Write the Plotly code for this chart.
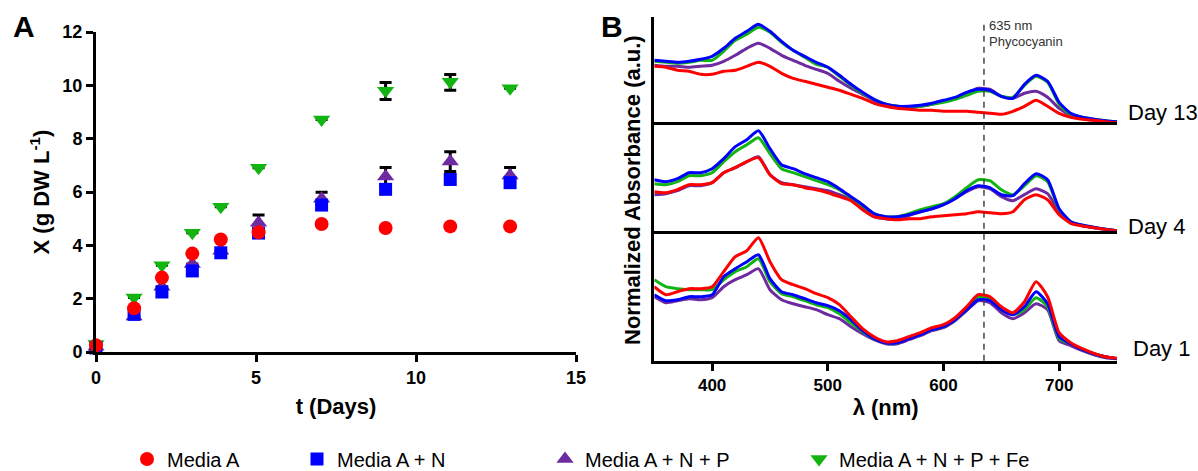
import plotly.graph_objects as go

# ---------------- Panel A data ----------------
days = [0, 1.19, 2.06, 3.01, 3.9, 5.08, 7.05, 9.05, 11.07, 12.94]
media_a = [0.25, 1.64, 2.79, 3.69, 4.22, 4.49, 4.80, 4.65, 4.71, 4.71]
media_a_n = [0.15, 1.41, 2.25, 3.04, 3.72, 4.46, 5.51, 6.10, 6.47, 6.35]
media_a_n_p = [0.20, 1.33, 2.45, 3.30, 3.80, 4.85, 5.75, 6.58, 7.14, 6.62]
media_a_n_p_fe = [0.30, 2.04, 3.25, 4.47, 5.45, 6.91, 8.72, 9.80, 10.13, 9.89]
err_p = [None, None, None, None, None, 0.29, 0.24, 0.34, 0.37, 0.30]
err_fe_plus = [None, None, None, None, None, None, None, 0.31, 0.28, None]
err_fe_minus = [None, None, None, None, None, None, None, 0.33, 0.31, None]

# ---------------- Panel B data ----------------
wl = list(range(350, 751, 10))
d13_blue = [.62, .61, .60, .61, .63, .66, .74, .84, .91, .98, .91, .81, .72, .66, .60, .55, .47, .38, .30, .23,
            .18, .16, .16, .17, .19, .22, .25, .30, .33, .32, .26, .24, .38, .47, .41, .20, .09, .05, .03, .016, .006]
d13_green = [.61, .60, .59, .60, .62, .62, .71, .82, .88, .95, .90, .80, .72, .65, .58, .55, .46, .37, .29, .23,
             .18, .16, .15, .16, .18, .20, .23, .27, .31, .31, .26, .25, .37, .46, .40, .18, .08, .05, .03, .015, .005]
d13_purple = [.57, .56, .56, .55, .56, .57, .61, .67, .74, .79, .74, .67, .62, .57, .53, .49, .41, .34, .28, .22,
              .18, .16, .15, .16, .18, .21, .24, .29, .34, .33, .26, .24, .29, .31, .25, .14, .07, .04, .02, .01, .005]
d13_red = [.56, .55, .52, .51, .48, .48, .51, .52, .56, .60, .56, .49, .44, .41, .38, .35, .32, .28, .24, .19,
           .16, .14, .13, .12, .12, .11, .11, .11, .10, .09, .08, .11, .16, .22, .16, .09, .05, .03, .02, .006, -.004]

d4_blue = [.51, .49, .52, .58, .58, .62, .72, .84, .91, 1.00, .82, .66, .62, .57, .53, .49, .42, .34, .26, .17,
           .14, .14, .16, .19, .22, .26, .32, .40, .45, .43, .36, .35, .47, .57, .51, .22, .09, .057, .034, .014, 0]
d4_green = [.47, .46, .49, .55, .55, .58, .69, .79, .86, .93, .77, .62, .58, .54, .50, .46, .41, .33, .25, .17,
            .14, .14, .17, .21, .24, .27, .34, .43, .51, .50, .41, .36, .45, .55, .49, .21, .09, .055, .033, .014, 0]
d4_purple = [.36, .37, .40, .45, .45, .48, .58, .63, .69, .74, .56, .48, .46, .44, .42, .40, .36, .31, .22, .14,
             .12, .12, .15, .19, .22, .26, .32, .39, .44, .42, .34, .30, .36, .42, .37, .19, .08, .05, .03, .014, 0]
d4_red = [.39, .38, .41, .46, .46, .48, .58, .63, .69, .73, .56, .47, .46, .43, .41, .38, .34, .30, .21, .14,
          .12, .11, .12, .12, .14, .15, .16, .17, .19, .18, .17, .19, .31, .36, .31, .16, .074, .047, .03, .012, 0]

d1_green = [.81, .74, .72, .71, .71, .71, .81, .89, .94, 1.02, .79, .67, .64, .60, .56, .53, .47, .38, .29, .22,
            .18, .18, .23, .26, .31, .34, .41, .51, .64, .62, .51, .46, .51, .63, .54, .22, .17, .11, .07, .04, .02]
d1_red = [.74, .66, .69, .72, .72, .74, .89, 1.04, 1.10, 1.23, .99, .81, .76, .72, .67, .63, .56, .44, .32, .24,
          .19, .20, .24, .28, .33, .36, .43, .54, .66, .64, .54, .48, .59, .79, .64, .28, .18, .12, .074, .04, .024]
d1_blue = [.66, .60, .61, .64, .64, .66, .84, .92, .99, 1.06, .82, .69, .66, .62, .58, .55, .50, .41, .30, .22,
           .18, .18, .22, .26, .31, .34, .41, .51, .61, .60, .51, .46, .54, .69, .57, .24, .17, .11, .07, .04, .02]
d1_purple = [.64, .58, .60, .62, .61, .63, .74, .81, .86, .92, .71, .61, .57, .54, .51, .46, .42, .34, .27, .21,
             .17, .17, .21, .25, .30, .33, .40, .50, .60, .58, .48, .42, .48, .57, .51, .20, .15, .10, .06, .03, .02]

names = ["Media A", "Media A + N", "Media A + N + P", "Media A + N + P + Fe"]
RED, BLUE, PURPLE, GREEN = "#ff0000", "#0000ff", "#6e2aa0", "#12b412"
FONT = "Liberation Sans, Arial, sans-serif"

W, H = 1198, 471
def px_x(p): return p / W
def px_y(p): return 1 - p / H

fig = go.Figure()

# ---- Panel A scatter ----
fig.add_trace(go.Scatter(x=days, y=media_a_n_p, mode="markers", name=names[2], legend="legend3",
                         marker=dict(symbol="triangle-up", size=15, color=PURPLE),
                         error_y=dict(type="data", array=err_p, color="black", thickness=3, width=6),
                         cliponaxis=False, xaxis="x", yaxis="y"))
fig.add_trace(go.Scatter(x=days, y=media_a_n_p_fe, mode="markers", name=names[3], legend="legend4",
                         marker=dict(symbol="triangle-down", size=15, color=GREEN),
                         error_y=dict(type="data", array=err_fe_plus, arrayminus=err_fe_minus, symmetric=False,
                                      color="black", thickness=3, width=6),
                         cliponaxis=False, xaxis="x", yaxis="y"))
fig.add_trace(go.Scatter(x=days, y=media_a_n, mode="markers", name=names[1], legend="legend2",
                         marker=dict(symbol="square", size=13, color=BLUE),
                         cliponaxis=False, xaxis="x", yaxis="y"))
fig.add_trace(go.Scatter(x=days, y=media_a, mode="markers", name=names[0], legend="legend",
                         marker=dict(symbol="circle", size=14, color=RED),
                         cliponaxis=False, xaxis="x", yaxis="y"))

# ---- Panel B spectra ----
spectra = [
    ("y2", "x2", [d1_purple, d1_green, d1_blue, d1_red]),
    ("y3", "x3", [d4_purple, d4_green, d4_blue, d4_red]),
    ("y4", "x4", [d13_purple, d13_green, d13_blue, d13_red]),
]
for ya, xa, series in spectra:
    for vals, col in zip(series, [PURPLE, GREEN, BLUE, RED]):
        fig.add_trace(go.Scatter(x=wl, y=vals, mode="lines",
                                 line=dict(color=col, width=3, shape="spline", smoothing=0.6),
                                 showlegend=False, xaxis=xa, yaxis=ya, cliponaxis=False))

axis_common = dict(showgrid=False, zeroline=False, showline=True, linecolor="black", linewidth=3,
                   ticks="outside", tickwidth=3, ticklen=7, tickcolor="black", automargin=False,
                   tickfont=dict(family=FONT, size=18, color="black", weight="bold"))
plain_axis = dict(showgrid=False, zeroline=False, showline=True, linecolor="black", linewidth=3,
                  showticklabels=False, ticks="", automargin=False)

A_dom_x = [px_x(96), px_x(576)]
A_dom_y = [px_y(352), px_y(32)]
B_dom_x = [px_x(654.3), px_x(1117)]
y1b, y4b, y13b, ytop = 360.7, 230.7, 122.3, 17.3

fig.update_layout(
    width=W, height=H, margin=dict(l=0, r=0, t=0, b=0, autoexpand=False),
    paper_bgcolor="white", plot_bgcolor="white",
    font=dict(family=FONT, color="black"),
    xaxis=dict(domain=A_dom_x, anchor="y", range=[0, 15], tickvals=[0, 5, 10, 15], **axis_common,
               title=dict(text="t (Days)", font=dict(family=FONT, size=22, weight="bold"), standoff=13)),
    yaxis=dict(domain=A_dom_y, anchor="x", range=[0, 12], tickvals=[0, 2, 4, 6, 8, 10, 12], **axis_common,
               title=dict(text="X (g DW L<sup>-1</sup>)", font=dict(family=FONT, size=22, weight="bold"),
                          standoff=7)),
    xaxis2=dict(domain=B_dom_x, anchor="y2", range=[350, 750], tickvals=[400, 500, 600, 700],
                **{**axis_common, "tickfont": dict(family=FONT, size=17, color="black", weight="bold")},
                title=dict(text="λ (nm)", font=dict(family=FONT, size=22, weight="bold"), standoff=6)),
    yaxis2=dict(domain=[px_y(y1b), px_y(y4b)], anchor="x2", range=[0, (y1b - y4b) / 100], **plain_axis),
    xaxis3=dict(domain=B_dom_x, anchor="y3", range=[350, 750], matches="x2", **plain_axis),
    yaxis3=dict(domain=[px_y(y4b), px_y(y13b)], anchor="x3", range=[0, (y4b - y13b) / 100], **plain_axis),
    xaxis4=dict(domain=B_dom_x, anchor="y4", range=[350, 750], matches="x2", **plain_axis),
    yaxis4=dict(domain=[px_y(y13b), px_y(ytop)], anchor="x4", range=[0, (y13b - ytop) / 100], **plain_axis),
    showlegend=True,
)

leg_font = dict(family=FONT, size=20, color="black")
leg_common = dict(orientation="h", yanchor="middle", y=px_y(459), xanchor="left",
                  bgcolor="rgba(0,0,0,0)", font=leg_font, borderwidth=0)
fig.update_layout(
    legend=dict(x=px_x(127), **leg_common),
    legend2=dict(x=px_x(297), **leg_common),
    legend3=dict(x=px_x(545), **leg_common),
    legend4=dict(x=px_x(799), **leg_common),
)

# 635 nm dashed marker line
fig.add_shape(type="line", xref="x2", yref="paper", x0=635, x1=635, y0=px_y(y1b), y1=px_y(22),
              line=dict(color="#444444", width=1.5, dash="6px,5px"))

ann = [
    dict(text="<b>A</b>", x=px_x(24), y=px_y(27), size=30),
    dict(text="<b>B</b>", x=px_x(612), y=px_y(27), size=30),
]
for a in ann:
    fig.add_annotation(text=a["text"], xref="paper", yref="paper", x=a["x"], y=a["y"], showarrow=False,
                       xanchor="center", yanchor="middle", font=dict(family=FONT, size=a["size"], color="black"))

for txt, x, y in [("Day 13", 1126, 113), ("Day 4", 1126, 226), ("Day 1", 1131, 348)]:
    fig.add_annotation(text=txt, xref="paper", yref="paper", x=px_x(x), y=px_y(y), showarrow=False,
                       xanchor="left", yanchor="middle", font=dict(family=FONT, size=22, color="black"))

for txt, y in [("635 nm", 26), ("Phycocyanin", 42)]:
    fig.add_annotation(text=txt, xref="paper", yref="paper", x=px_x(987), y=px_y(y), showarrow=False,
                       xanchor="left", yanchor="middle", font=dict(family=FONT, size=13, color="#333333"))

fig.add_annotation(text="<b>Normalized Absorbance (a.u.)</b>", xref="paper", yref="paper",
                   x=px_x(632), y=px_y(190), showarrow=False, textangle=-90,
                   xanchor="center", yanchor="middle", font=dict(family=FONT, size=22, color="black"))

fig.write_html("out.html")
